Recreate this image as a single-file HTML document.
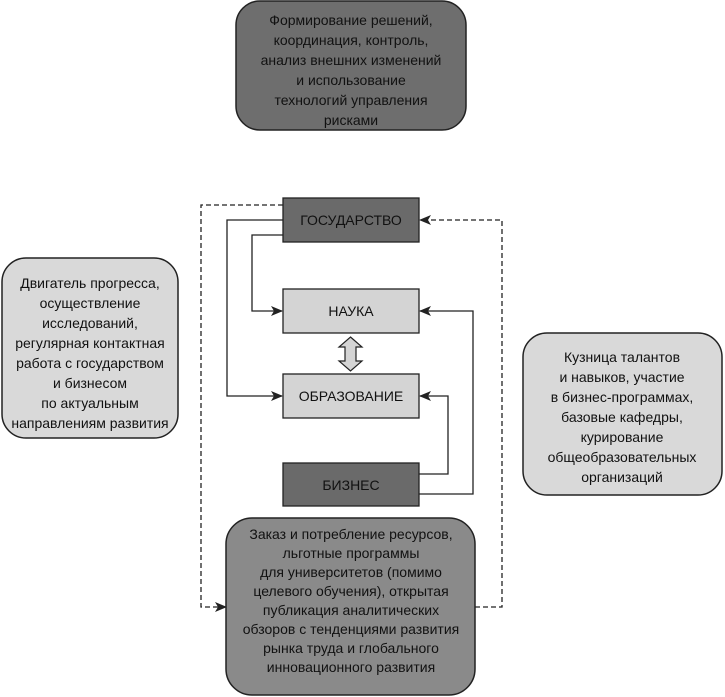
<!DOCTYPE html>
<html><head><meta charset="utf-8"><style>
html,body{margin:0;padding:0;background:#fff;}
svg{display:block}
text{font-family:"Liberation Sans",sans-serif;font-size:14px;fill:#111;text-anchor:middle;}
</style></head><body>
<svg width="725" height="697" viewBox="0 0 725 697" xmlns="http://www.w3.org/2000/svg">
<defs>
<marker id="a" markerWidth="12" markerHeight="10" refX="11" refY="5" orient="auto" markerUnits="userSpaceOnUse">
<path d="M0,0 L12,5 L0,10 L3,5 z" fill="#222"/></marker>
</defs>
<!-- top box -->
<rect x="236" y="1" width="230" height="129" rx="24" fill="#6e6e6e" stroke="#222" stroke-width="1.5"/>
<text x="351" y="25">Формирование решений,</text>
<text x="351" y="45">координация, контроль,</text>
<text x="351" y="65">анализ внешних изменений</text>
<text x="351" y="85">и использование</text>
<text x="351" y="105">технологий управления</text>
<text x="351" y="125">рисками</text>
<!-- left box -->
<rect x="2" y="258" width="176" height="180" rx="24" fill="#d9d9d9" stroke="#222" stroke-width="1.5"/>
<text x="90" y="288">Двигатель прогресса,</text>
<text x="90" y="308">осуществление</text>
<text x="90" y="328">исследований,</text>
<text x="90" y="348">регулярная контактная</text>
<text x="90" y="368">работа с государством</text>
<text x="90" y="388">и бизнесом</text>
<text x="90" y="408">по актуальным</text>
<text x="90" y="428">направлениям развития</text>
<!-- right box -->
<rect x="523" y="333" width="199" height="162" rx="24" fill="#d9d9d9" stroke="#222" stroke-width="1.5"/>
<text x="622" y="362">Кузница талантов</text>
<text x="622" y="382">и навыков, участие</text>
<text x="622" y="402">в бизнес-программах,</text>
<text x="622" y="422">базовые кафедры,</text>
<text x="622" y="442">курирование</text>
<text x="622" y="462">общеобразовательных</text>
<text x="622" y="482">организаций</text>
<!-- connectors -->
<g fill="none" stroke="#222" stroke-width="1.3">
<polyline points="283,220 227,220 227,396 282,396" marker-end="url(#a)"/>
<polyline points="283,235 252,235 252,311 282,311" marker-end="url(#a)"/>
<polyline points="419,474 448,474 448,396 420,396" marker-end="url(#a)"/>
<polyline points="419,494 473,494 473,311 420,311" marker-end="url(#a)"/>
<polyline points="283,205 201,205 201,607 226,607" stroke-dasharray="5,3" marker-end="url(#a)"/>
<polyline points="475,607 502,607 502,220 420,220" stroke-dasharray="5,3" marker-end="url(#a)"/>
</g>
<!-- center boxes -->
<rect x="283" y="198" width="136" height="44" fill="#6a6a6a" stroke="#222" stroke-width="1.3"/>
<text x="351" y="225">ГОСУДАРСТВО</text>
<rect x="283" y="289" width="136" height="44" fill="#d4d4d4" stroke="#222" stroke-width="1.3"/>
<text x="351" y="316">НАУКА</text>
<rect x="283" y="374" width="136" height="44" fill="#d4d4d4" stroke="#222" stroke-width="1.3"/>
<text x="351" y="401">ОБРАЗОВАНИЕ</text>
<rect x="283" y="463" width="136" height="43" fill="#6a6a6a" stroke="#222" stroke-width="1.3"/>
<text x="351" y="490">БИЗНЕС</text>
<!-- double arrow -->
<path d="M350.5,337 L362,347 L356,347 L356,361 L362,361 L350.5,371 L339,361 L345,361 L345,347 L339,347 z" fill="#d4d4d4" stroke="#222" stroke-width="1.2"/>
<!-- bottom box -->
<rect x="226" y="518" width="249" height="177" rx="26" fill="#8a8a8a" stroke="#222" stroke-width="1.5"/>
<text x="351" y="539">Заказ и потребление ресурсов,</text>
<text x="351" y="558">льготные программы</text>
<text x="351" y="577">для университетов (помимо</text>
<text x="351" y="596">целевого обучения), открытая</text>
<text x="351" y="615">публикация аналитических</text>
<text x="351" y="634">обзоров с тенденциями развития</text>
<text x="351" y="653">рынка труда и глобального</text>
<text x="351" y="672">инновационного развития</text>
</svg>
</body></html>
